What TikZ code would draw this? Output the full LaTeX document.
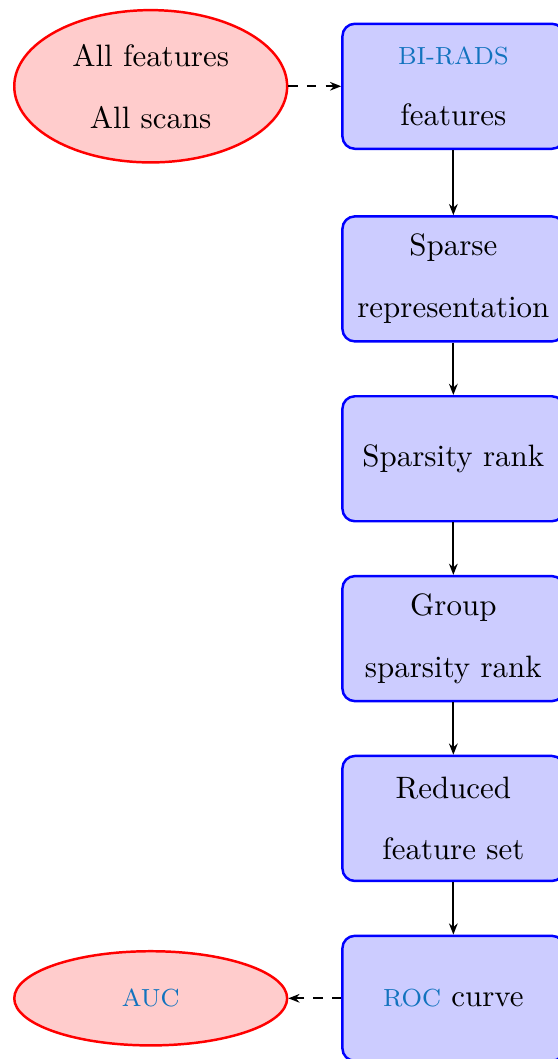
\documentclass[tikz,border=0pt]{standalone}
\usetikzlibrary{positioning,arrows.meta,shapes.geometric}
\definecolor{acrocol}{HTML}{1273BE}
\newcommand{\acro}[1]{{\footnotesize\textcolor{acrocol}{#1}}}

\begin{document}
\begin{tikzpicture}[node distance=0.595cm,
  stepbox/.style={rounded corners=4pt, fill=blue!20, draw=blue, thick, minimum width=2.52cm, minimum height=1.42cm, align=center},
  result/.style={ellipse, fill=red!20, draw=red, thick, minimum width=3.1cm, align=center},
  flow/.style={-{Stealth[length=3.6pt,width=2.8pt]}, semithick},
  link/.style={flow, dashed}]
\useasboundingbox (0,0) rectangle (6.33,-12.03);
\node[stepbox] (birads) at (5.15,-0.98) {\acro{BI-RADS}\\[8pt] features};
\node[stepbox, below=0.74cm of birads] (sparse) {Sparse\\[8pt] representation};
\node[stepbox, below=of sparse] (rank) {Sparsity rank};
\node[stepbox, below=of rank] (group) {Group\\[8pt] sparsity rank};
\node[stepbox, below=of group] (reduced) {Reduced\\[8pt] feature set};
\node[stepbox, below=of reduced] (roc) {\acro{ROC} curve};
\node[result, minimum height=1.73cm, left=0.6cm of birads] (input) {All features\\[8pt] All scans};
\node[result, minimum height=1.07cm, left=0.6cm of roc] (auc) {\acro{AUC}};
\draw[link] (input) -- (birads);
\draw[flow] (birads) -- (sparse);
\draw[flow] (sparse) -- (rank);
\draw[flow] (rank) -- (group);
\draw[flow] (group) -- (reduced);
\draw[flow] (reduced) -- (roc);
\draw[link] (roc) -- (auc);
\end{tikzpicture}
\end{document}
